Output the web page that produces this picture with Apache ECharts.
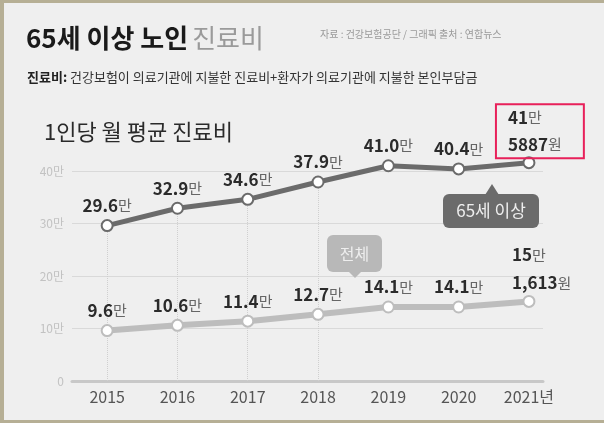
<!DOCTYPE html>
<html>
<head>
<meta charset="utf-8">
<script src="https://cdn.jsdelivr.net/npm/echarts@6/dist/echarts.min.js"></script>
<style>
  html, body { margin: 0; padding: 0; background: #b6af95; }
  #panel { position: absolute; left: 4px; top: 3px; right: 0; bottom: 3px; background: #efefef; }
  #chart { position: absolute; left: 0; top: 0; width: 604px; height: 423px; }
</style>
</head>
<body>
<div id="panel"></div>
<div id="chart"></div>
<script>
const FONT = "'Noto Sans CJK KR', 'Noto Sans', sans-serif";

// 1인당 월 평균 진료비 (만원)
const years = [2015, 2016, 2017, 2018, 2019, 2020, 2021];
const xLabels = ["2015", "2016", "2017", "2018", "2019", "2020", "2021년"];
const senior = [29.6, 32.9, 34.6, 37.9, 41.0, 40.4, 41.5887]; // 65세 이상
const total = [9.6, 10.6, 11.4, 12.7, 14.1, 14.1, 15.1613]; // 전체
const yTicks = [0, 10, 20, 30, 40];

const chart = echarts.init(document.getElementById("chart"));

const numRich = {
  n: { fontSize: 17, fontWeight: "bold", color: "#2b2b2b", fontFamily: FONT },
  u: { fontSize: 15, color: "#666", fontFamily: FONT },
};

// 마지막 값: "41만 5887원" 형식
function lastLabel(v, comma) {
  const won = Math.round(v * 10000);
  const man = Math.floor(won / 10000);
  let rest = String(won % 10000);
  if (comma && rest.length > 3) rest = rest.slice(0, -3) + "," + rest.slice(-3);
  return "{n|" + man + "}{u|만}\n{n|" + rest + "}{u|원}";
}

function buildData(list, last) {
  return list.map((v, i) => {
    const item = { value: [years[i], v] };
    if (i === list.length - 1) item.label = last(v);
    return item;
  });
}

const seniorData = buildData(senior, (v) => ({
  formatter: lastLabel(v, false),
  align: "left",
  offset: [-33, 5],
  distance: 3,
  lineHeight: 27,
  padding: [0, 22, 0, 12],
  borderColor: "#e8205a",
  borderWidth: 2,
  rich: {
    n: { ...numRich.n, lineHeight: 27 },
    u: { ...numRich.u, lineHeight: 27 },
  },
}));

const totalData = buildData(total, (v) => ({
  formatter: lastLabel(v, true),
  align: "left",
  offset: [-17, 7],
  lineHeight: 28,
  rich: {
    n: { ...numRich.n, lineHeight: 28 },
    u: { ...numRich.u, lineHeight: 28 },
  },
}));

// 점에서 x축까지 점선
const dropLines = years.map((y, i) => [
  { coord: [y, 0] },
  { coord: [y, senior[i]] },
]);

chart.setOption({
  animation: false,
  textStyle: { fontFamily: FONT },
  title: [
    {
      text: "{b|65세 이상 노인} {l|진료비}",
      left: 26,
      top: 25,
      padding: 0,
      textStyle: {
        rich: {
          b: { fontSize: 26, fontWeight: "bold", color: "#1a1a1a", fontFamily: FONT },
          l: { fontSize: 26, fontWeight: "normal", color: "#9a9a9a", fontFamily: FONT },
        },
      },
    },
    {
      text: "{b|진료비:} 건강보험이 의료기관에 지불한 진료비+환자가 의료기관에 지불한 본인부담금",
      left: 27,
      top: 71,
      padding: 0,
      textStyle: {
        fontSize: 13,
        fontWeight: "normal",
        color: "#333",
        fontFamily: FONT,
        rich: { b: { fontSize: 13, fontWeight: "bold", color: "#222", fontFamily: FONT } },
      },
    },
    {
      text: "자료 : 건강보험공단 / 그래픽 출처 : 연합뉴스",
      left: 320,
      top: 29,
      padding: 0,
      textStyle: { fontSize: 10, fontWeight: "normal", color: "#999", fontFamily: FONT },
    },
    {
      text: "1인당 월 평균 진료비",
      left: 44,
      top: 121,
      padding: 0,
      textStyle: { fontSize: 22, fontWeight: "normal", color: "#2a2a2a", fontFamily: FONT },
    },
  ],
  grid: { left: 72, right: 61, top: 171, bottom: 42 },
  xAxis: {
    type: "value",
    min: 2014.5,
    max: 2021.2,
    splitLine: { show: false },
    axisTick: { show: false },
    axisLine: { show: true, onZero: true, lineStyle: { color: "#c8c8c8", width: 3 } },
    axisLabel: {
      customValues: years,
      margin: 8,
      fontSize: 16,
      color: "#555",
      fontFamily: FONT,
      formatter: (v) => xLabels[years.indexOf(v)],
    },
  },
  yAxis: {
    type: "value",
    min: 0,
    max: 40,
    interval: 10,
    axisLine: { show: false },
    axisTick: { show: false },
    splitLine: { lineStyle: { color: "#d9d9d9", width: 1 } },
    axisLabel: {
      customValues: yTicks,
      margin: 8,
      fontSize: 12,
      color: "#c2c2c2",
      fontFamily: FONT,
      formatter: (v) => (v === 0 ? "0" : v + "만"),
    },
  },
  series: [
    {
      name: "65세 이상",
      type: "line",
      data: seniorData,
      clip: false,
      z: 3,
      symbol: "circle",
      symbolSize: 11,
      lineStyle: { color: "#6b6b6b", width: 5 },
      itemStyle: { color: "#fff", borderColor: "#6b6b6b", borderWidth: 2 },
      label: {
        show: true,
        position: "top",
        formatter: (p) => "{n|" + p.value[1].toFixed(1) + "}{u|만}",
        rich: numRich,
      },
      markLine: {
        silent: true,
        symbol: "none",
        label: { show: false },
        lineStyle: { color: "#cfcfcf", type: "dotted", width: 1 },
        data: dropLines,
        z: 1,
      },
    },
    {
      name: "전체",
      type: "line",
      data: totalData,
      clip: false,
      z: 3,
      symbol: "circle",
      symbolSize: 11,
      lineStyle: { color: "#bdbdbd", width: 6 },
      itemStyle: { color: "#fff", borderColor: "#bdbdbd", borderWidth: 2 },
      label: {
        show: true,
        position: "top",
        formatter: (p) => "{n|" + p.value[1].toFixed(1) + "}{u|만}",
        rich: numRich,
      },
    },
  ],
  graphic: [
    // 65세 이상 말풍선
    { type: "rect", shape: { x: 443, y: 194, width: 96, height: 34, r: 6 }, style: { fill: "#6b6b6b" }, z: 10 },
    { type: "polygon", shape: { points: [[485, 195], [499, 195], [492, 184]] }, style: { fill: "#6b6b6b" }, z: 10 },
    {
      type: "text",
      x: 491,
      y: 211,
      z: 11,
      style: { text: "65세 이상", fill: "#eeeeee", fontSize: 17, fontFamily: FONT, align: "center", verticalAlign: "middle" },
    },
    // 전체 말풍선
    { type: "rect", shape: { x: 327, y: 235, width: 55, height: 37, r: 6 }, style: { fill: "#b8b8b8" }, z: 10 },
    { type: "polygon", shape: { points: [[348, 271], [362, 271], [355, 278]] }, style: { fill: "#b8b8b8" }, z: 10 },
    {
      type: "text",
      x: 354.5,
      y: 253.5,
      z: 11,
      style: { text: "전체", fill: "#eeeeee", fontSize: 16, fontFamily: FONT, align: "center", verticalAlign: "middle" },
    },
  ],
});
</script>
</body>
</html>
